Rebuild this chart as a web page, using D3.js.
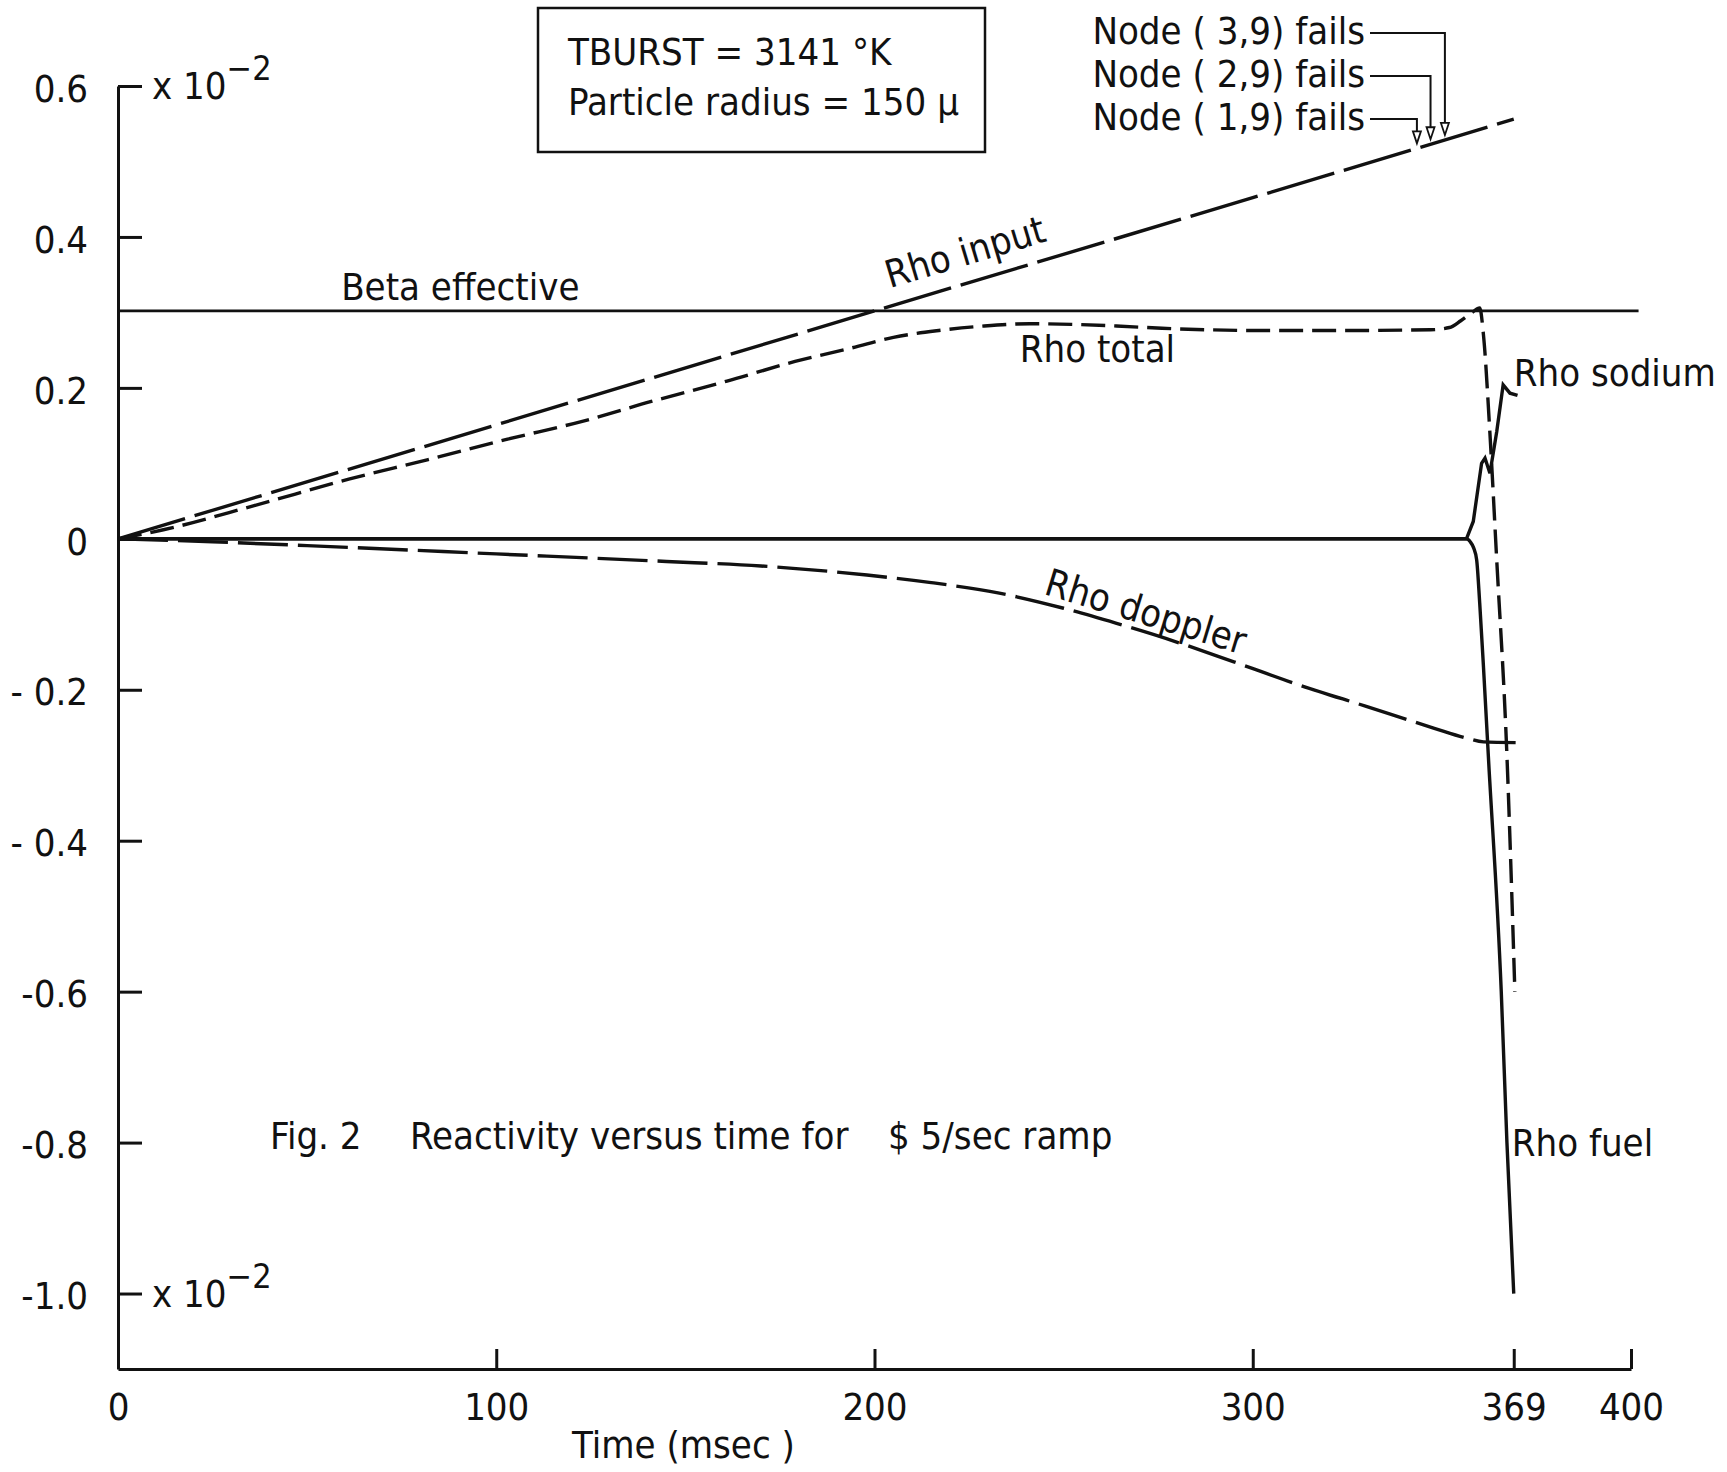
<!DOCTYPE html>
<html>
<head>
<meta charset="utf-8">
<script src="https://cdn.jsdelivr.net/npm/d3@7"></script>
<style>
  body { margin: 0; background: #fff; }
  text {
    font-family: "DejaVu Sans Condensed", "DejaVu Sans", sans-serif;
    font-stretch: condensed;
    font-size: 38px;
    fill: #111;
  }
  .axis path, .axis line { stroke: #111; stroke-width: 3; }
  .curve { fill: none; stroke: #111; stroke-width: 3.4; }
</style>
</head>
<body>
<div id="chart"></div>
<script>
// axis ticks
const timeTicks = [0, 100, 200, 300, 369, 400];
const reactTicks = [0.6, 0.4, 0.2, 0, -0.2, -0.4, -0.6, -0.8, -1.0];
const reactTickLabels = ["0.6", "0.4", "0.2", "0", "- 0.2", "- 0.4", "-0.6", "-0.8", "-1.0"];

// series (time in msec, reactivity x 10^-2)
const betaT = [0, 402];
const betaV = [0.302, 0.302];

const inputT = [0, 100, 200, 300, 369];
const inputV = [0, 0.151, 0.302, 0.452, 0.556];

const totalT = [0, 12, 36, 61, 82, 103, 123, 141, 161, 179, 194, 205, 217, 229, 241, 253, 264, 276, 288, 300, 323, 347, 352, 355, 358, 360, 361, 362.7, 364.5, 367.1, 369.3];
const totalV = [0, 0.012, 0.044, 0.079, 0.105, 0.132, 0.156, 0.182, 0.209, 0.235, 0.253, 0.267, 0.276, 0.282, 0.285, 0.284, 0.282, 0.279, 0.277, 0.276, 0.276, 0.277, 0.280, 0.289, 0.300, 0.306, 0.27, 0.14, -0.028, -0.275, -0.6];

const dopplerT = [0, 25, 50, 100, 145, 170, 198, 215, 233, 250, 264, 277, 295, 312.5, 330, 348, 356.5, 361, 369.5];
const dopplerV = [0, -0.004, -0.009, -0.020, -0.030, -0.036, -0.048, -0.058, -0.072, -0.092, -0.112, -0.132, -0.163, -0.194, -0.222, -0.251, -0.264, -0.269, -0.270];

const sodiumT = [0, 356.5, 358.3, 360.5, 361.4, 362.7, 364.5, 366.2, 368, 370];
const sodiumV = [0, 0, 0.023, 0.100, 0.107, 0.087, 0.142, 0.204, 0.193, 0.19];

const fuelT = [0, 356.5, 357.5, 358.4, 359.2, 360, 361, 362.3, 365.7, 367.2, 369];
const fuelV = [0, 0, -0.004, -0.012, -0.028, -0.085, -0.17, -0.289, -0.6, -0.8, -1.0];

// node failures marked on the Rho input line
const nodeNames = ["Node ( 3,9) fails", "Node ( 2,9) fails", "Node ( 1,9) fails"];
const nodeTimes = [350.8, 347, 343.4];

const width = 1727;
const height = 1472;

const svg = d3.select("#chart")
    .append("svg")
    .attr("width", width)
    .attr("height", height);

const x = d3.scaleLinear().domain([0, 400]).range([118, 1631]);
const y = d3.scaleLinear().domain([-1.1, 0.6]).range([1369, 86]);

const zip = (ts, vs) => ts.map((t, i) => [t, vs[i]]);
const inputAt = t => d3.scaleLinear().domain(inputT).range(inputV)(t);

// axes
const yAxis = svg.append("g")
    .attr("class", "axis")
    .attr("transform", `translate(${x(0)},0)`)
    .call(d3.axisLeft(y)
        .tickValues(reactTicks)
        .tickFormat((d, i) => reactTickLabels[i])
        .tickSize(-24)
        .tickSizeOuter(0)
        .tickPadding(30));
yAxis.attr("font-family", null).attr("font-size", null);
yAxis.selectAll("text").attr("dy", "0.4em");

const xAxis = svg.append("g")
    .attr("class", "axis")
    .attr("transform", `translate(0,${y(-1.1)})`)
    .call(d3.axisBottom(x)
        .tickValues(timeTicks)
        .tickSize(-20)
        .tickSizeOuter(0)
        .tickPadding(24));
xAxis.attr("font-family", null).attr("font-size", null);

// x 10^-2 markers
[0.6, -1.0].forEach(v => {
    const t = svg.append("text")
        .attr("x", x(0) + 34)
        .attr("y", y(v) + 13)
        .text("x 10");
    t.append("tspan")
        .attr("dy", -19)
        .attr("font-size", 34)
        .text("−2");
});

// curves
const line = d3.line().x(d => x(d[0])).y(d => y(d[1]));
const smooth = d3.line().x(d => x(d[0])).y(d => y(d[1])).curve(d3.curveMonotoneX);

svg.append("path").attr("class", "curve")
    .attr("d", line(zip(betaT, betaV)))
    .style("stroke-width", 2.6);

svg.append("path").attr("class", "curve")
    .attr("d", line(zip(sodiumT, sodiumV)));

svg.append("path").attr("class", "curve")
    .attr("d", smooth(zip(fuelT, fuelV)));

svg.append("path").attr("class", "curve")
    .attr("d", line(zip(inputT, inputV)))
    .style("stroke-dasharray", "70,10");

svg.append("path").attr("class", "curve")
    .attr("d", smooth(zip(totalT, totalV)))
    .style("stroke-dasharray", "24,9");

svg.append("path").attr("class", "curve")
    .attr("d", smooth(zip(dopplerT, dopplerV)))
    .style("stroke-dasharray", "50,10");

// curve labels
svg.append("text").attr("x", x(59)).attr("y", y(0.302) - 11).text("Beta effective");

svg.append("text")
    .attr("transform", `translate(${x(204)},${y(inputAt(204)) - 18}) rotate(-16.7)`)
    .text("Rho input");

svg.append("text").attr("x", x(238.4)).attr("y", 362).text("Rho total");

svg.append("text")
    .attr("transform", `translate(${x(244.5)},${y(-0.086) - 10}) rotate(17)`)
    .text("Rho doppler");

svg.append("text").attr("x", x(369)).attr("y", y(0.19) - 9).text("Rho sodium");
svg.append("text").attr("x", x(369) - 2).attr("y", y(-0.8) + 13).text("Rho fuel");

// parameter box
svg.append("rect")
    .attr("x", 538).attr("y", 8)
    .attr("width", 447).attr("height", 144)
    .attr("fill", "none").attr("stroke", "#111").attr("stroke-width", 2.5);
svg.append("text").attr("x", 568).attr("y", 65).text("TBURST = 3141 °K");
svg.append("text").attr("x", 568).attr("y", 115).text("Particle radius = 150 µ");

// node failure annotations
nodeNames.forEach((name, i) => {
    const base = 44 + i * 43;
    const tx = x(nodeTimes[i]);
    const tip = y(inputAt(nodeTimes[i])) - 5;
    svg.append("text")
        .attr("x", 1365).attr("y", base)
        .attr("text-anchor", "end")
        .text(name);
    svg.append("path")
        .attr("d", `M1370,${base - 11} H${tx} V${tip - 12}`)
        .attr("fill", "none").attr("stroke", "#111").attr("stroke-width", 2);
    svg.append("path")
        .attr("d", `M${tx - 4},${tip - 12} L${tx + 4},${tip - 12} L${tx},${tip} Z`)
        .attr("fill", "#fff").attr("stroke", "#111").attr("stroke-width", 1.8);
});

// caption and axis title
svg.append("text").attr("x", 270).attr("y", 1149).text("Fig. 2");
svg.append("text").attr("x", 410).attr("y", 1149).text("Reactivity versus time for");
svg.append("text").attr("x", 888).attr("y", 1149).text("$ 5/sec ramp");
svg.append("text").attr("x", 572).attr("y", 1458).text("Time (msec )");
</script>
</body>
</html>
